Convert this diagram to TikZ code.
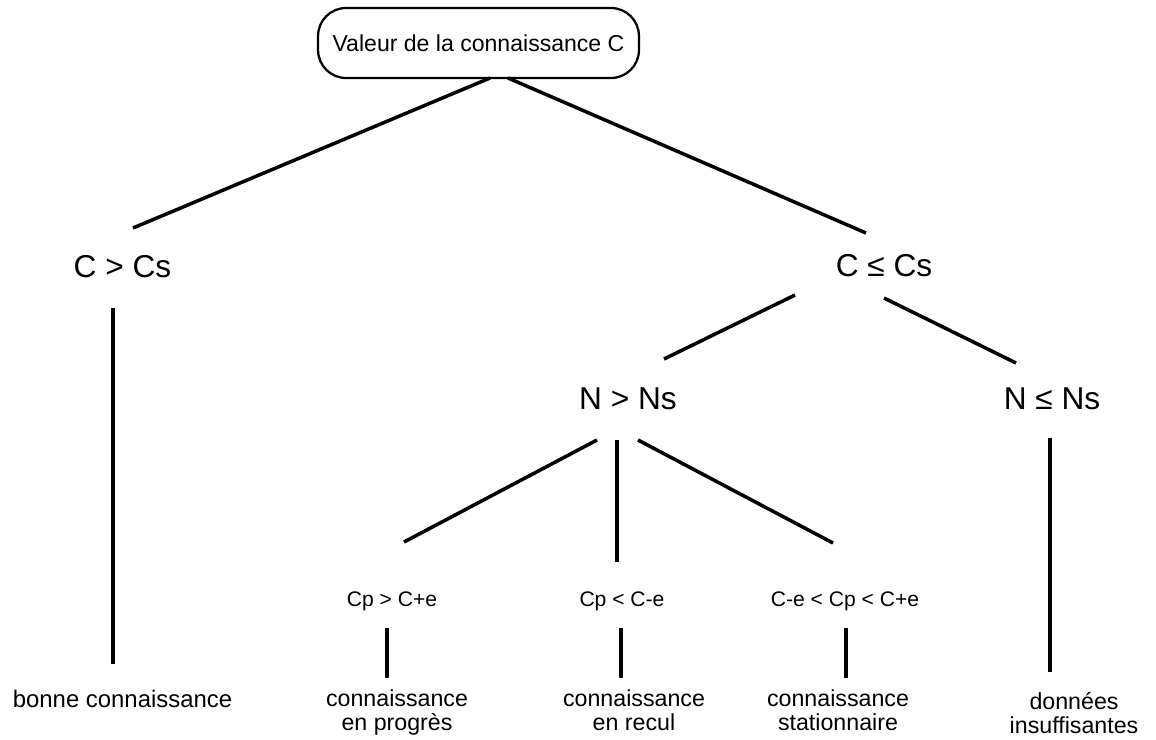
\documentclass[tikz,border=0pt]{standalone}
\usepackage{fontspec}
\setmainfont{Liberation Sans}
\usetikzlibrary{calc}

\begin{document}
\begin{tikzpicture}[x=0.025cm,y=-0.025cm]
\tikzstyle{every node}=[inner sep=0pt,align=center]
\tikzstyle{branch}=[line width=2.5pt]
\tikzstyle{rootbox}=[draw,line width=1.6pt,rounded corners=0.7cm,minimum width=8.02cm,minimum height=1.75cm,font=\fontsize{16.4}{20}\selectfont]
\tikzstyle{cond}=[anchor=base,font=\fontsize{22.5}{26}\selectfont]
\tikzstyle{subcond}=[anchor=base,font=\fontsize{15}{17}\selectfont]
\tikzstyle{leaf}=[anchor=base,font=\fontsize{16.5}{16.4}\selectfont]
\useasboundingbox (0,0) rectangle (1156,739);
% nodes
\node[rootbox] (root) at (478.5,43) {Valeur de la connaissance C};
\node[cond] (cgt) at (122.5,277) {C > Cs};
\node[cond] (cle) at (884,276) {C ≤ Cs};
\node[cond] (ngt) at (628,409) {N > Ns};
\node[cond] (nle) at (1052,409) {N ≤ Ns};
\node[subcond] (pgt) at (392,606) {Cp > C+e};
\node[subcond] (plt) at (622,606) {Cp < C-e};
\node[subcond] (pin) at (845,606) {C-e < Cp < C+e};
\node[leaf,font=\fontsize{17}{17}\selectfont] (bonne) at (122.5,707) {bonne connaissance};
\node[leaf] (prog) at (397,730) {connaissance\\en progrès};
\node[leaf] (recul) at (634,730) {connaissance\\en recul};
\node[leaf] (stat) at (838,730) {connaissance\\stationnaire};
\node[leaf] (insuf) at (1074,733) {données\\insuffisantes};
% branches
\draw[branch] ($(root)+(11.5,35)$) -- ($(cgt.base)+(10.5,-49)$);
\draw[branch] ($(root)+(29.5,35)$) -- ($(cle.base)+(-18,-43)$);
\draw[branch] ($(cgt.base)+(-9.5,31)$) -- ($(bonne.base)+(-9.5,-43)$);
\draw[branch] ($(cle.base)+(-89,19)$) -- ($(ngt.base)+(36,-50)$);
\draw[branch] ($(cle.base)+(0,22)$) -- ($(nle.base)+(-36,-46)$);
\draw[branch] ($(nle.base)+(-2,29)$) -- ($(insuf.base)+(-24,-61)$);
\draw[branch] ($(ngt.base)+(-31,31)$) -- ($(pgt.base)+(12,-64)$);
\draw[branch] ($(ngt.base)+(-11,31)$) -- ($(plt.base)+(-5,-44)$);
\draw[branch] ($(ngt.base)+(10,31)$) -- ($(pin.base)+(-12,-63)$);
\draw[branch] ($(pgt.base)+(-5,22)$) -- ($(prog.base)+(-10,-52)$);
\draw[branch] ($(plt.base)+(-1,22)$) -- ($(recul.base)+(-13,-52)$);
\draw[branch] ($(pin.base)+(1,22)$) -- ($(stat.base)+(8,-52)$);
\end{tikzpicture}
\end{document}
